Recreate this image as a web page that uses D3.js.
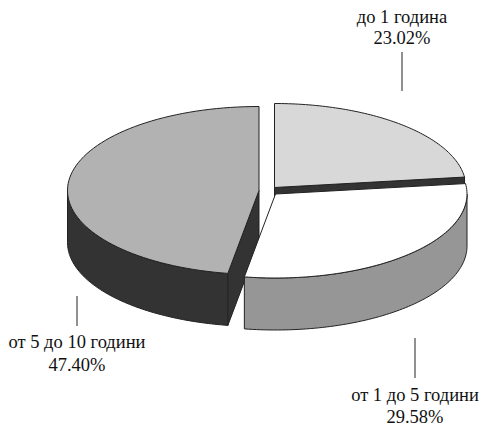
<!DOCTYPE html>
<html><head><meta charset="utf-8">
<script src="https://cdn.jsdelivr.net/npm/d3@7"></script>
<style>html,body{margin:0;padding:0;background:#fff}svg{display:block}text{font-family:"Liberation Serif",serif;font-size:18.5px;fill:#111;text-anchor:middle}</style>
</head><body><script>
const categories=["до 1 година","от 1 до 5 години","от 5 до 10 години"];
const values=[23.02,29.58,47.40];
const labels=["23.02%","29.58%","47.40%"];
const topColors=["#d8d8d8","#ffffff","#b2b2b2"];
const sideColors=["#333333","#969696","#333333"];
const centers=[[274.5,187.5],[275.5,194],[259,190.5]];
const labelPos=[[402,22.5,43.5,52,91],[415,400.5,422.5,338,378],[77,348,371,296,326]];
const rx=191.5,ry=84,depth=52;
const W=481,H=427;
const svg=d3.select("body").append("svg").attr("width",W).attr("height",H);
const arcs=d3.pie().sort(null).value(d=>d).startAngle(0).endAngle(2*Math.PI)(values);
const pt=(c,a,dy=0)=>[c[0]+rx*Math.sin(a),c[1]-ry*Math.cos(a)+dy];
const stroke="#222";
function arcPts(c,a0,a1,dy){const n=80;return d3.range(n+1).map(i=>pt(c,a0+(a1-a0)*i/n,dy));}
const line=d3.line();
function wall(i,a0,a1){
  const c=centers[i];
  const pts=arcPts(c,a0,a1,0).concat(arcPts(c,a1,a0,depth));
  svg.append("path").attr("d",line(pts)+"Z").attr("fill",sideColors[i]).attr("stroke",stroke).attr("stroke-width",1);
}
function cut(i,a){
  const c=centers[i];
  const p=pt(c,a);
  svg.append("path").attr("d",line([c,p,[p[0],p[1]+depth],[c[0],c[1]+depth]])+"Z")
   .attr("fill",sideColors[i]).attr("stroke",stroke).attr("stroke-width",1);
}
function face(i){
  const c=centers[i],d=arcs[i];
  svg.append("path").attr("d",line([c].concat(arcPts(c,d.startAngle,d.endAngle,0)))+"Z")
   .attr("fill",topColors[i]).attr("stroke",stroke).attr("stroke-width",1).attr("stroke-linejoin","round");
}
cut(0,arcs[0].endAngle);
face(0);
wall(2,arcs[2].startAngle,3*Math.PI/2);
cut(2,arcs[2].startAngle);
face(2);
wall(1,Math.PI/2,arcs[1].endAngle);
face(1);
categories.forEach((n,i)=>{
  const [x,y0,y1,l0,l1]=labelPos[i];
  svg.append("line").attr("x1",x).attr("x2",x).attr("y1",l0).attr("y2",l1).attr("stroke","#222").attr("stroke-width",1);
  svg.append("text").attr("x",x).attr("y",y0).text(n);
  svg.append("text").attr("x",x).attr("y",y1).text(labels[i]);
});
</script></body></html>
